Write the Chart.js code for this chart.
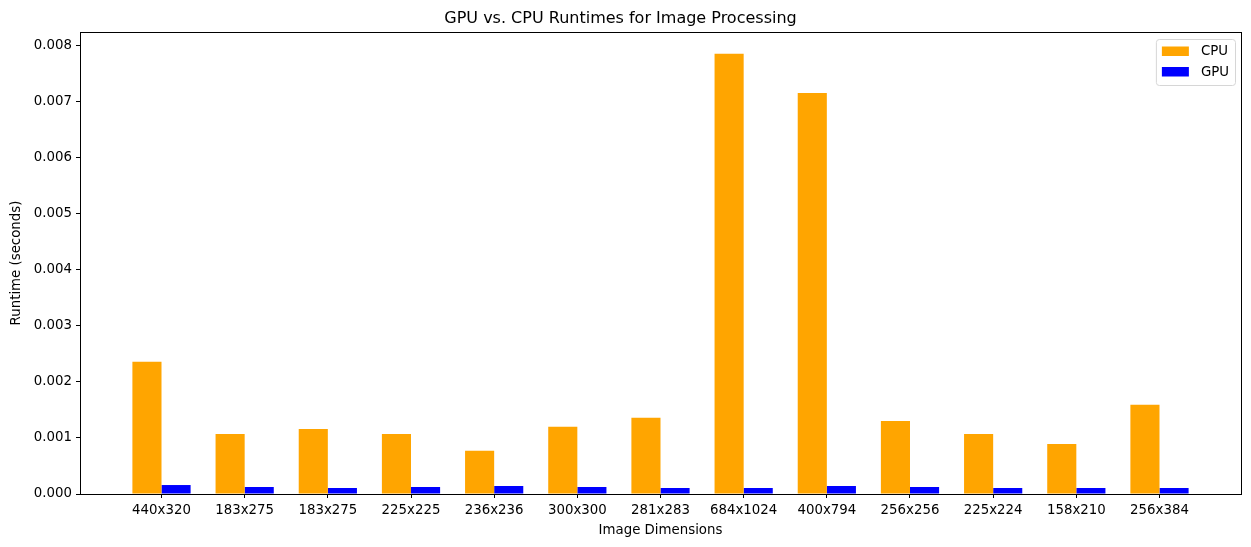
<!DOCTYPE html>
<html>
<head>
<meta charset="utf-8">
<script src="https://cdn.jsdelivr.net/npm/chart.js@4.4.0/dist/chart.umd.min.js"></script>
<style>
  html, body { margin: 0; padding: 0; background: #fff; overflow: hidden; }
  canvas { display: block; }
</style>
</head>
<body>
<canvas id="runtimeChart" width="1251" height="547"></canvas>
<script>
// data
const categories = ['440x320', '183x275', '183x275', '225x225', '236x236', '300x300', '281x283',
                    '684x1024', '400x794', '256x256', '225x224', '158x210', '256x384'];
const cpuTimes = [0.00236, 0.00107, 0.00116, 0.00107, 0.00077, 0.00120, 0.00136,
                  0.00785, 0.00715, 0.00130, 0.00107, 0.00089, 0.00159];
const gpuTimes = [0.00016, 0.000125, 0.000107, 0.000125, 0.000143, 0.000125, 0.000107,
                  0.000107, 0.000143, 0.000125, 0.000107, 0.000107, 0.000107];
const yTicks = [0, 0.001, 0.002, 0.003, 0.004, 0.005, 0.006, 0.007, 0.008];

const FONT = 'DejaVu Sans';

// frame around the plot + legend in the upper right corner (matplotlib style)
const framePlugin = {
    id: 'frame',
    afterDraw(chart) {
        const { ctx, chartArea: a } = chart;
        ctx.save();
        ctx.strokeStyle = '#000';
        ctx.lineWidth = 1;
        ctx.strokeRect(Math.round(a.left) + 0.5, Math.round(a.top) + 0.5,
                       Math.round(a.right - a.left), Math.round(a.bottom - a.top));

        // legend
        ctx.font = '13.33px "' + FONT + '"';
        const sets = chart.data.datasets;
        const textW = Math.max(...sets.map(d => ctx.measureText(d.label).width));
        const w = 45 + textW + 6;
        const h = 46;
        const x = a.right - 6 - w;
        const y = a.top + 7;
        ctx.fillStyle = 'rgba(255,255,255,0.8)';
        ctx.strokeStyle = '#d6d6d6';
        ctx.beginPath();
        ctx.roundRect(x + 0.5, y + 0.5, w, h, 3);
        ctx.fill();
        ctx.stroke();
        sets.forEach((d, i) => {
            const cy = y + 12 + i * 20.5;
            ctx.fillStyle = d.backgroundColor;
            ctx.fillRect(x + 6, cy - 4.5, 27, 9.5);
            ctx.fillStyle = '#000';
            ctx.textBaseline = 'middle';
            ctx.fillText(d.label, x + 45, cy + 1);
        });
        ctx.restore();
    }
};

const ctx = document.getElementById('runtimeChart').getContext('2d');
new Chart(ctx, {
    type: 'bar',
    data: {
        datasets: [{
            label: 'CPU',
            data: cpuTimes.map((v, i) => ({ x: i, y: v })),
            backgroundColor: '#FFA500',
            categoryPercentage: 0.7,
            barPercentage: 1.0
        }, {
            label: 'GPU',
            data: gpuTimes.map((v, i) => ({ x: i, y: v })),
            backgroundColor: '#0000FF',
            categoryPercentage: 0.7,
            barPercentage: 1.0
        }]
    },
    options: {
        responsive: false,
        animation: false,
        layout: { padding: { left: 0, right: 10, top: 0, bottom: 0 } },
        plugins: {
            legend: { display: false },
            tooltip: { enabled: false },
            title: {
                display: true,
                text: 'GPU vs. CPU Runtimes for Image Processing',
                color: '#000',
                font: { family: FONT, size: 16, weight: 'normal' },
                padding: { top: 9, bottom: 3.8 }
            }
        },
        scales: {
            x: {
                type: 'linear',
                min: -0.98,
                max: categories.length - 1 + 0.98,
                offset: false,
                afterBuildTicks(scale) {
                    scale.ticks = categories.map((_, i) => ({ value: i }));
                },
                afterFit(scale) { scale.height = 53; },
                ticks: {
                    color: '#000',
                    autoSkip: false,
                    maxRotation: 0,
                    padding: 5,
                    font: { family: FONT, size: 13.33 },
                    callback: (v) => categories[v]
                },
                grid: {
                    offset: false,
                    drawOnChartArea: false,
                    drawTicks: true,
                    tickLength: 4,
                    color: '#000'
                },
                border: { display: false },
                title: {
                    display: true,
                    text: 'Image Dimensions',
                    color: '#000',
                    font: { family: FONT, size: 13.33 },
                    padding: { top: 0, bottom: 8 }
                }
            },
            y: {
                min: 0,
                max: 0.00824,
                afterBuildTicks(scale) {
                    scale.ticks = yTicks.map(v => ({ value: v }));
                },
                afterFit(scale) { scale.width = 80; },
                ticks: {
                    color: '#000',
                    padding: 4,
                    font: { family: FONT, size: 13.33 },
                    callback: (v) => v.toFixed(3)
                },
                grid: {
                    drawOnChartArea: false,
                    drawTicks: true,
                    tickLength: 4,
                    color: '#000'
                },
                border: { display: false },
                title: {
                    display: true,
                    text: 'Runtime (seconds)',
                    color: '#000',
                    font: { family: FONT, size: 13.33 },
                    padding: { top: 9, bottom: 0 }
                }
            }
        }
    },
    plugins: [framePlugin]
});
</script>
</body>
</html>
